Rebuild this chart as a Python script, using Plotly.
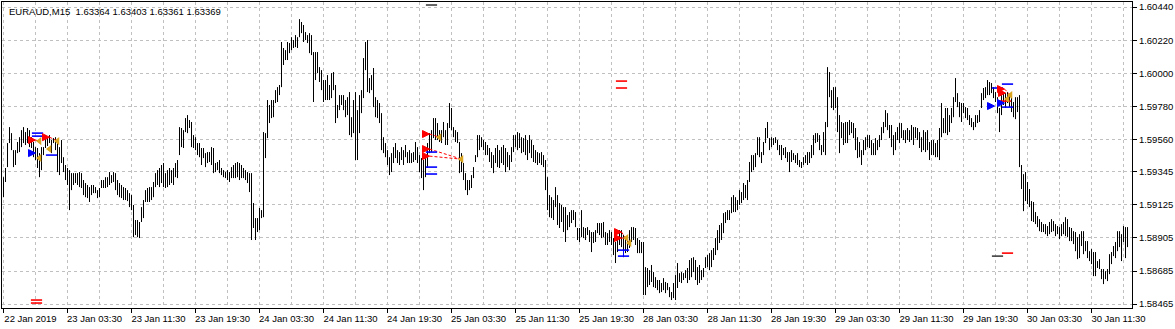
import plotly.graph_objects as go

# ---- data (EURAUD M15, bar high / low prices) ----
high = [
1.59309,1.59370,1.59536,1.59642,1.59602,1.59489,1.59489,1.59543,1.59575,1.59622,
1.59642,1.59609,1.59636,1.59622,1.59575,1.59543,1.59509,1.59503,1.59469,1.59509,
1.59509,1.59589,1.59575,1.59589,1.59556,1.59569,1.59575,1.59543,1.59509,1.59556,
1.59442,1.59390,1.59370,1.59356,1.59336,1.59336,1.59336,1.59336,1.59343,1.59336,
1.59290,1.59270,1.59257,1.59243,1.59257,1.59257,1.59243,1.59223,1.59237,1.59290,
1.59290,1.59309,1.59309,1.59343,1.59323,1.59343,1.59336,1.59290,1.59270,1.59257,
1.59243,1.59237,1.59223,1.59203,1.59190,1.59124,1.59024,1.59024,1.59011,1.59110,
1.59157,1.59223,1.59237,1.59243,1.59243,1.59277,1.59336,1.59356,1.59370,1.59390,
1.59403,1.59336,1.59356,1.59370,1.59356,1.59370,1.59403,1.59423,1.59642,1.59636,
1.59622,1.59702,1.59722,1.59689,1.59676,1.59589,1.59575,1.59536,1.59536,1.59503,
1.59503,1.59469,1.59476,1.59476,1.59509,1.59503,1.59403,1.59410,1.59423,1.59370,
1.59356,1.59343,1.59356,1.59343,1.59376,1.59390,1.59403,1.59410,1.59403,1.59390,
1.59370,1.59356,1.59343,1.59336,1.59336,1.59137,1.59037,1.59037,1.59104,1.59090,
1.59609,1.59602,1.59822,1.59789,1.59822,1.59822,1.59888,1.59908,1.59922,1.60208,
1.60168,1.60154,1.60208,1.60201,1.60240,1.60221,1.60254,1.60240,1.60360,1.60341,
1.60321,1.60274,1.60254,1.60267,1.60254,1.60141,1.60141,1.60141,1.60041,1.60021,
1.59955,1.59955,1.59988,1.59922,1.60001,1.60008,1.59922,1.59789,1.59855,1.59855,
1.59855,1.59822,1.59841,1.59875,1.59708,1.59822,1.59875,1.59755,1.59855,1.59888,
1.60101,1.60208,1.60221,1.59968,1.59988,1.60035,1.59841,1.59822,1.59802,1.59735,
1.59575,1.59536,1.59489,1.59442,1.59469,1.59509,1.59536,1.59489,1.59476,1.59509,
1.59489,1.59523,1.59476,1.59489,1.59469,1.59476,1.59543,1.59509,1.59456,1.59436,
1.59423,1.59442,1.59536,1.59602,1.59622,1.59702,1.59702,1.59669,1.59622,1.59622,
1.59676,1.59622,1.59669,1.59802,1.59769,1.59642,1.59622,1.59609,1.59543,1.59469,
1.59403,1.59336,1.59290,1.59290,1.59323,1.59376,1.59456,1.59589,1.59589,1.59575,
1.59556,1.59543,1.59523,1.59503,1.59476,1.59456,1.59503,1.59523,1.59489,1.59509,
1.59523,1.59503,1.59476,1.59456,1.59509,1.59589,1.59589,1.59609,1.59602,1.59575,
1.59569,1.59589,1.59556,1.59589,1.59556,1.59523,1.59489,1.59476,1.59469,1.59476,
1.59456,1.59423,1.59309,1.59190,1.59176,1.59157,1.59243,1.59190,1.59137,1.59124,
1.59110,1.59110,1.59057,1.59077,1.59090,1.59090,1.59077,1.58971,1.58971,1.59090,
1.58977,1.58971,1.58977,1.58957,1.58944,1.58944,1.58957,1.59004,1.59004,1.59004,
1.59011,1.58944,1.58937,1.58957,1.58944,1.58904,1.58878,1.58904,1.58957,1.58957,
1.58924,1.58910,1.58904,1.58957,1.58977,1.58977,1.58971,1.58904,1.58891,1.58878,
1.58878,1.58711,1.58705,1.58691,1.58725,1.58678,1.58644,1.58625,1.58625,1.58605,
1.58638,1.58612,1.58605,1.58578,1.58545,1.58605,1.58658,1.58738,1.58671,1.58678,
1.58671,1.58691,1.58705,1.58758,1.58771,1.58777,1.58758,1.58711,1.58725,1.58691,
1.58705,1.58777,1.58791,1.58804,1.58824,1.58838,1.58904,1.58957,1.58991,1.59004,
1.59070,1.59077,1.59090,1.59090,1.59176,1.59190,1.59176,1.59157,1.59223,1.59210,
1.59270,1.59257,1.59290,1.59410,1.59456,1.59456,1.59469,1.59575,1.59575,1.59476,
1.59543,1.59636,1.59676,1.59569,1.59575,1.59569,1.59575,1.59556,1.59523,1.59523,
1.59503,1.59509,1.59476,1.59476,1.59489,1.59469,1.59456,1.59469,1.59423,1.59410,
1.59442,1.59456,1.59476,1.59476,1.59523,1.59589,1.59602,1.59602,1.59589,1.59523,
1.59609,1.59676,1.60041,1.60008,1.59888,1.59908,1.59908,1.59841,1.59722,1.59676,
1.59669,1.59676,1.59676,1.59689,1.59676,1.59669,1.59636,1.59575,1.59543,1.59489,
1.59556,1.59575,1.59589,1.59589,1.59556,1.59536,1.59569,1.59556,1.59589,1.59642,
1.59676,1.59755,1.59735,1.59656,1.59656,1.59589,1.59609,1.59642,1.59669,1.59669,
1.59622,1.59622,1.59636,1.59622,1.59656,1.59642,1.59642,1.59636,1.59609,1.59575,
1.59622,1.59609,1.59622,1.59543,1.59556,1.59556,1.59536,1.59556,1.59636,1.59802,
1.59702,1.59769,1.59769,1.59722,1.59769,1.59841,1.59968,1.59868,1.59809,1.59802,
1.59802,1.59775,1.59769,1.59722,1.59702,1.59676,1.59722,1.59722,1.59755,1.59868,
1.59902,1.59908,1.59955,1.59942,1.59935,1.59908,1.59875,1.59841,1.59769,1.59855,
1.59875,1.59868,1.59875,1.59855,1.59855,1.59809,1.59841,1.59841,1.59855,1.59390,
1.59329,1.59343,1.59277,1.59230,1.59150,1.59144,1.59077,1.59050,1.59030,1.59011,
1.58997,1.58997,1.58984,1.59011,1.59030,1.59017,1.58997,1.58984,1.58977,1.58997,
1.59011,1.59043,1.59030,1.58977,1.58971,1.58950,1.58944,1.58910,1.58930,1.58950,
1.58950,1.58884,1.58884,1.58817,1.58831,1.58811,1.58811,1.58751,1.58764,1.58698,
1.58698,1.58684,1.58698,1.58797,1.58811,1.58851,1.58878,1.58950,1.58950,1.58930,
1.58984,1.58977,1.58977]

low = [
1.59176,1.59277,1.59376,1.59536,1.59489,1.59376,1.59390,1.59469,1.59476,1.59509,
1.59536,1.59523,1.59536,1.59509,1.59503,1.59442,1.59423,1.59370,1.59309,1.59356,
1.59456,1.59503,1.59516,1.59536,1.59469,1.59536,1.59489,1.59343,1.59323,1.59403,
1.59343,1.59290,1.59257,1.59090,1.59223,1.59257,1.59270,1.59257,1.59243,1.59237,
1.59190,1.59176,1.59170,1.59144,1.59190,1.59203,1.59203,1.59170,1.59176,1.59237,
1.59237,1.59237,1.59243,1.59257,1.59270,1.59277,1.59223,1.59190,1.59176,1.59170,
1.59157,1.59157,1.59150,1.59110,1.59090,1.58910,1.58924,1.58910,1.58904,1.59011,
1.59037,1.59144,1.59144,1.59144,1.59157,1.59176,1.59243,1.59257,1.59243,1.59270,
1.59243,1.59237,1.59243,1.59257,1.59270,1.59257,1.59309,1.59303,1.59456,1.59509,
1.59503,1.59609,1.59602,1.59636,1.59509,1.59503,1.59489,1.59456,1.59442,1.59390,
1.59436,1.59376,1.59403,1.59410,1.59390,1.59336,1.59343,1.59356,1.59336,1.59323,
1.59309,1.59303,1.59290,1.59277,1.59303,1.59303,1.59303,1.59309,1.59290,1.59303,
1.59303,1.59290,1.59270,1.59210,1.58891,1.58971,1.58891,1.58944,1.58957,1.59037,
1.59043,1.59436,1.59569,1.59669,1.59702,1.59708,1.59802,1.59809,1.59855,1.59908,
1.60055,1.60088,1.60088,1.60134,1.60154,1.60168,1.60174,1.60168,1.60240,1.60267,
1.60208,1.60221,1.60201,1.60134,1.60121,1.59809,1.59955,1.60001,1.59942,1.59888,
1.59809,1.59822,1.59822,1.59822,1.59835,1.59888,1.59669,1.59702,1.59755,1.59789,
1.59755,1.59708,1.59722,1.59589,1.59575,1.59602,1.59423,1.59423,1.59602,1.59735,
1.59835,1.60021,1.59875,1.59868,1.59888,1.59775,1.59708,1.59702,1.59669,1.59489,
1.59469,1.59442,1.59390,1.59323,1.59343,1.59403,1.59436,1.59403,1.59390,1.59423,
1.59390,1.59442,1.59403,1.59403,1.59403,1.59410,1.59423,1.59403,1.59343,1.59303,
1.59223,1.59309,1.59370,1.59469,1.59476,1.59569,1.59556,1.59556,1.59543,1.59536,
1.59575,1.59523,1.59523,1.59636,1.59622,1.59575,1.59543,1.59536,1.59336,1.59343,
1.59290,1.59223,1.59190,1.59223,1.59237,1.59303,1.59410,1.59442,1.59489,1.59509,
1.59489,1.59456,1.59456,1.59410,1.59370,1.59336,1.59403,1.59376,1.59370,1.59403,
1.59390,1.59343,1.59376,1.59356,1.59410,1.59476,1.59509,1.59489,1.59503,1.59469,
1.59476,1.59456,1.59423,1.59469,1.59436,1.59410,1.59403,1.59390,1.59403,1.59390,
1.59376,1.59223,1.59090,1.59043,1.59037,1.59024,1.59110,1.58991,1.58971,1.59011,
1.58944,1.58878,1.58957,1.58977,1.59004,1.59024,1.58977,1.58891,1.58878,1.58910,
1.58904,1.58891,1.58924,1.58878,1.58811,1.58871,1.58878,1.58937,1.58924,1.58904,
1.58910,1.58858,1.58858,1.58878,1.58858,1.58791,1.58738,1.58811,1.58858,1.58844,
1.58777,1.58804,1.58811,1.58838,1.58878,1.58891,1.58858,1.58804,1.58804,1.58804,
1.58525,1.58525,1.58578,1.58592,1.58612,1.58578,1.58572,1.58558,1.58538,1.58545,
1.58558,1.58538,1.58558,1.58511,1.58492,1.58505,1.58492,1.58572,1.58612,1.58605,
1.58625,1.58638,1.58605,1.58625,1.58644,1.58678,1.58625,1.58592,1.58605,1.58625,
1.58644,1.58705,1.58711,1.58691,1.58711,1.58758,1.58791,1.58824,1.58871,1.58891,
1.58937,1.59004,1.59024,1.59024,1.59070,1.59077,1.59077,1.59090,1.59124,1.59137,
1.59157,1.59170,1.59157,1.59277,1.59343,1.59356,1.59376,1.59456,1.59442,1.59403,
1.59456,1.59536,1.59569,1.59489,1.59509,1.59523,1.59536,1.59489,1.59456,1.59423,
1.59456,1.59436,1.59410,1.59343,1.59410,1.59423,1.59403,1.59390,1.59376,1.59370,
1.59390,1.59403,1.59390,1.59403,1.59436,1.59456,1.59536,1.59543,1.59489,1.59456,
1.59476,1.59456,1.59642,1.59841,1.59769,1.59755,1.59769,1.59609,1.59469,1.59569,
1.59523,1.59536,1.59536,1.59589,1.59602,1.59569,1.59489,1.59436,1.59442,1.59390,
1.59456,1.59489,1.59509,1.59503,1.59456,1.59456,1.59456,1.59489,1.59509,1.59556,
1.59602,1.59642,1.59622,1.59569,1.59509,1.59456,1.59489,1.59556,1.59536,1.59569,
1.59556,1.59536,1.59556,1.59543,1.59556,1.59523,1.59569,1.59556,1.59503,1.59476,
1.59489,1.59476,1.59489,1.59423,1.59456,1.59456,1.59442,1.59442,1.59423,1.59575,
1.59602,1.59602,1.59589,1.59609,1.59669,1.59708,1.59809,1.59775,1.59708,1.59676,
1.59735,1.59702,1.59689,1.59656,1.59642,1.59622,1.59642,1.59669,1.59676,1.59769,
1.59822,1.59835,1.59855,1.59855,1.59868,1.59835,1.59809,1.59735,1.59609,1.59722,
1.59789,1.59769,1.59802,1.59775,1.59742,1.59708,1.59695,1.59742,1.59376,1.59230,
1.59083,1.59150,1.59130,1.59110,1.59017,1.59011,1.58997,1.58977,1.58950,1.58944,
1.58944,1.58930,1.58917,1.58930,1.58944,1.58950,1.58917,1.58930,1.58897,1.58917,
1.58930,1.58917,1.58910,1.58884,1.58884,1.58864,1.58817,1.58764,1.58771,1.58851,
1.58797,1.58817,1.58771,1.58751,1.58731,1.58651,1.58651,1.58705,1.58698,1.58631,
1.58598,1.58631,1.58618,1.58664,1.58731,1.58784,1.58771,1.58817,1.58844,1.58751,
1.58878,1.58771,1.58844]

# time labels every 32 bars (8 hours of M15 bars)
time_labels = ["22 Jan 2019", "23 Jan 03:30", "23 Jan 11:30", "23 Jan 19:30",
               "24 Jan 03:30", "24 Jan 11:30", "24 Jan 19:30", "25 Jan 03:30",
               "25 Jan 11:30", "25 Jan 19:30", "28 Jan 03:30", "28 Jan 11:30",
               "28 Jan 19:30", "29 Jan 03:30", "29 Jan 11:30", "29 Jan 19:30",
               "30 Jan 03:30", "30 Jan 11:30"]
time_label_bars = [0, 32, 64, 96, 128, 160, 192, 224, 256, 288, 320, 352,
                   384, 416, 448, 480, 512, 544]
price_ticks = ["1.60440", "1.60220", "1.60000", "1.59780", "1.59560",
               "1.59345", "1.59125", "1.58905", "1.58685", "1.58465"]

title_text = "EURAUD,M15  1.63364 1.63403 1.63361 1.63369"

# trade markers (bar index, price)
buy_arrow_bar = [16, 23, 213, 213, 213, 309, 309, 500.5, 501]
buy_arrow_price = [1.59556, 1.59575, 1.59596, 1.59496, 1.59449, 1.58944, 1.58904, 1.59895, 1.59869]
blue_arrow_bar = [16, 495.5, 500.5]
blue_arrow_price = [1.59469, 1.59782, 1.59802]
close_tri_bar = [18, 23, 18, 27, 218, 229, 311.5, 313, 503.5, 502]
close_tri_price = [1.59549, 1.59496, 1.59436, 1.59549, 1.59575, 1.59429, 1.58904, 1.58871, 1.59855, 1.59829]
blue_dash_bar = [17, 17, 24, 214, 214, 214, 310, 310, 497, 502, 502]
blue_dash_price = [1.59602, 1.59582, 1.59456, 1.59476, 1.59376, 1.59330, 1.58824, 1.58784, 1.59902, 1.59928, 1.59775]
red_dash_bar = [16.5, 16.5, 309, 309, 501, 502]
red_dash_price = [1.58492, 1.58472, 1.59948, 1.59902, 1.59815, 1.58804]
dark_dash_bar = [214, 497]
dark_dash_price = [1.60454, 1.58784]
# dotted trade lines (open bar/price -> close bar/price)
trade_open_bar = [16, 23, 213, 213, 213, 309, 309, 500.5]
trade_open_price = [1.59556, 1.59575, 1.59596, 1.59496, 1.59449, 1.58944, 1.58904, 1.59895]
trade_close_bar = [18, 27, 218, 229, 229, 313, 311.5, 503.5]
trade_close_price = [1.59549, 1.59549, 1.59575, 1.59429, 1.59429, 1.58871, 1.58904, 1.59855]

# ---- figure ----
bars = list(range(len(high)))
xs, ys = [], []
for b, h, l in zip(bars, high, low):
    xs += [b, b, None]
    ys += [l, h, None]

fig = go.Figure()
fig.add_trace(go.Scatter(x=xs, y=ys, mode="lines",
                         line=dict(color="black", width=1), hoverinfo="skip",
                         showlegend=False))

lx, ly = [], []
for a, b, c, d in zip(trade_open_bar, trade_open_price, trade_close_bar, trade_close_price):
    lx += [a, c, None]
    ly += [b, d, None]
fig.add_trace(go.Scatter(x=lx, y=ly, mode="lines",
                         line=dict(color="red", width=1, dash="3px,2px"),
                         showlegend=False))

fig.add_trace(go.Scatter(x=[310, 310], y=[blue_dash_price[6], blue_dash_price[7]],
                         mode="lines", line=dict(color="blue", width=1), showlegend=False))


def dash_trace(xv, yv, color):
    return go.Scatter(x=xv, y=yv, mode="markers", showlegend=False,
                      marker=dict(symbol="line-ew", size=8,
                                  line=dict(color=color, width=1.6)))


fig.add_trace(dash_trace(blue_dash_bar, blue_dash_price, "blue"))
fig.add_trace(dash_trace(red_dash_bar, red_dash_price, "red"))
fig.add_trace(dash_trace(dark_dash_bar, dark_dash_price, "#404040"))

fig.add_trace(go.Scatter(x=close_tri_bar, y=close_tri_price, mode="markers",
                         marker=dict(symbol="triangle-left", size=7, color="#DAA520"),
                         showlegend=False))
fig.add_trace(go.Scatter(x=buy_arrow_bar, y=buy_arrow_price, mode="markers",
                         marker=dict(symbol="arrow-right", size=7, color="red",
                                     line=dict(color="red", width=1)),
                         showlegend=False))
fig.add_trace(go.Scatter(x=blue_arrow_bar, y=blue_arrow_price, mode="markers",
                         marker=dict(symbol="arrow-right", size=7, color="blue",
                                     line=dict(color="blue", width=1)),
                         showlegend=False))

fig.add_annotation(text=title_text, xref="paper", yref="paper", x=0.0045, y=0.995,
                   xanchor="left", yanchor="top", showarrow=False,
                   font=dict(family="Liberation Sans, Arial", size=9.5, color="black"))

grid = dict(gridcolor="#C0C0C0", griddash="3px,3px", gridwidth=1)
fig.update_xaxes(range=[-0.75, 564.25], tickmode="array", tickvals=time_label_bars,
                 ticktext=time_labels, ticks="outside", ticklen=4, tickcolor="black",
                 ticklabelshift=27, ticklabelstandoff=-2,
                 showline=True, linecolor="black", linewidth=1,
                 mirror=True, zeroline=False, showgrid=True,
                 minor=dict(tickmode="linear", tick0=0, dtick=16, showgrid=True,
                            ticks="", **grid),
                 **grid)
fig.update_yaxes(side="right", range=[1.58439, 1.60474], tickmode="array",
                 tickvals=[float(t) for t in price_ticks], ticktext=price_ticks,
                 ticks="outside", ticklen=4, tickcolor="black",
                 showline=True, linecolor="black", linewidth=1, mirror=True,
                 zeroline=False, showgrid=True, **grid)
fig.update_layout(width=1175, height=329, margin=dict(l=2, r=43, t=2, b=21),
                  paper_bgcolor="white", plot_bgcolor="white",
                  font=dict(family="Liberation Sans, Arial", size=9.5, color="black"),
                  showlegend=False)
fig.write_html("out.html")
